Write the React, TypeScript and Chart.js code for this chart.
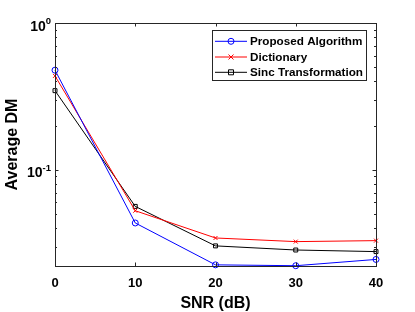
import React, { useEffect, useRef } from "react";
import { Chart, registerables } from "chart.js";

Chart.register(...registerables);

const snr = [0, 10, 20, 30, 40];
const proposed = [0.477, 0.0434, 0.0225, 0.0222, 0.0245];
const dictionary = [0.436, 0.0526, 0.0343, 0.0324, 0.0329];
const sinc = [0.346, 0.0563, 0.0303, 0.0284, 0.0277];
const seriesNames = ["Proposed Algorithm", "Dictionary", "Sinc Transformation"];
const xTicks = [0, 10, 20, 30, 40];
const yMajor = [0.1, 1];
const yMinor = [0.03, 0.04, 0.05, 0.06, 0.07, 0.08, 0.09, 0.2, 0.3, 0.4, 0.5, 0.6, 0.7, 0.8, 0.9];
const xTitle = "SNR (dB)";
const yTitle = "Average DM";

const FONT = "'Liberation Sans', Arial, Helvetica, sans-serif";
const AX = "#262626";

function drawMarker(ctx: CanvasRenderingContext2D, style: string, x: number, y: number, color: string) {
  ctx.save();
  ctx.strokeStyle = color;
  ctx.lineWidth = 1;
  ctx.beginPath();
  if (style === "circle") {
    ctx.arc(x, y, 3, 0, Math.PI * 2);
  } else if (style === "crossRot") {
    ctx.moveTo(x - 2.5, y - 2.5);
    ctx.lineTo(x + 2.5, y + 2.5);
    ctx.moveTo(x + 2.5, y - 2.5);
    ctx.lineTo(x - 2.5, y + 2.5);
  } else {
    ctx.rect(x - 2.5, y - 2.5, 5, 5);
  }
  ctx.stroke();
  ctx.restore();
}

const axesPlugin = {
  id: "matlabAxes",
  afterDatasetsDraw(chart: any) {
    const ctx: CanvasRenderingContext2D = chart.ctx;
    const { left, right, top, bottom } = chart.chartArea;
    const xs = chart.scales.x;
    const ys = chart.scales.y;
    ctx.save();
    ctx.strokeStyle = AX;
    ctx.lineWidth = 1;
    // box
    ctx.strokeRect(Math.round(left) + 0.5, Math.round(top) + 0.5, Math.round(right - left), Math.round(bottom - top));
    // x ticks
    ctx.beginPath();
    for (const v of xTicks) {
      const px = Math.round(xs.getPixelForValue(v)) + 0.5;
      ctx.moveTo(px, bottom);
      ctx.lineTo(px, bottom - 3.5);
      ctx.moveTo(px, top);
      ctx.lineTo(px, top + 3.5);
    }
    for (const v of yMajor) {
      const py = Math.round(ys.getPixelForValue(v)) + 0.5;
      ctx.moveTo(left, py);
      ctx.lineTo(left + 3.5, py);
      ctx.moveTo(right, py);
      ctx.lineTo(right - 3.5, py);
    }
    for (const v of yMinor) {
      const py = Math.round(ys.getPixelForValue(v)) + 0.5;
      ctx.moveTo(left, py);
      ctx.lineTo(left + 2, py);
      ctx.moveTo(right, py);
      ctx.lineTo(right - 2, py);
    }
    ctx.stroke();

    // x tick labels
    ctx.fillStyle = "#000";
    ctx.font = `bold 13px ${FONT}`;
    ctx.textAlign = "center";
    ctx.textBaseline = "alphabetic";
    for (const v of xTicks) {
      ctx.fillText(String(v), xs.getPixelForValue(v), 287);
    }
    // y tick labels with superscript
    for (const v of yMajor) {
      const e = Math.round(Math.log10(v));
      const py = ys.getPixelForValue(v);
      const sup = e < 0 ? "-" + String(-e) : String(e);
      ctx.font = `bold 9.5px ${FONT}`;
      const sw = ctx.measureText(sup).width;
      ctx.textAlign = "left";
      ctx.fillText(sup, 51 - sw, py + 1);
      ctx.font = `bold 14px ${FONT}`;
      ctx.textAlign = "right";
      ctx.fillText("10", 51 - sw, py + 7.5);
    }
    // titles
    ctx.font = `bold 16px ${FONT}`;
    ctx.textAlign = "center";
    ctx.fillText(xTitle, (left + right) / 2, 307.5);
    ctx.save();
    ctx.translate(17, (top + bottom) / 2);
    ctx.rotate(-Math.PI / 2);
    ctx.fillText(yTitle, 0, 0);
    ctx.restore();

    // legend
    const lx = 212.5, ly = 30.5, lw = 154, lh = 50;
    ctx.fillStyle = "#fff";
    ctx.fillRect(lx, ly, lw, lh);
    ctx.strokeStyle = AX;
    ctx.strokeRect(lx, ly, lw, lh);
    const rows = [41.3, 57, 72.3];
    chart.data.datasets.forEach((ds: any, i: number) => {
      const ry = rows[i];
      ctx.strokeStyle = ds.borderColor;
      ctx.lineWidth = 1;
      ctx.beginPath();
      ctx.moveTo(215, ry);
      ctx.lineTo(247, ry);
      ctx.stroke();
      drawMarker(ctx, ds.pointStyle, 231, ry, ds.borderColor);
      ctx.fillStyle = "#000";
      ctx.font = `bold 11.7px ${FONT}`;
      ctx.textAlign = "left";
      ctx.textBaseline = "middle";
      ctx.fillText(ds.label, 250, ry + 0.5);
      ctx.textBaseline = "alphabetic";
    });
    ctx.restore();
  },
};

export default function App() {
  const ref = useRef<HTMLCanvasElement | null>(null);
  useEffect(() => {
    document.body.style.margin = "0";
    if (!ref.current) return;
    const mk = (label: string, data: number[], color: string, ps: string) => ({
      label,
      data: snr.map((x, i) => ({ x, y: data[i] })),
      borderColor: color,
      backgroundColor: "transparent",
      borderWidth: 1,
      pointStyle: ps,
      pointRadius: ps === "circle" ? 3 : 2.8,
      pointBorderWidth: 1,
      pointBorderColor: color,
      pointBackgroundColor: "transparent",
      tension: 0,
      clip: false as any,
    });
    const chart = new Chart(ref.current, {
      type: "line",
      data: {
        datasets: [
          mk(seriesNames[0], proposed, "#0000ff", "circle"),
          mk(seriesNames[1], dictionary, "#ff0000", "crossRot"),
          mk(seriesNames[2], sinc, "#000000", "rect"),
        ],
      },
      options: {
        responsive: false,
        animation: false,
        layout: { padding: { left: 55, right: 39, top: 23, bottom: 46 } },
        plugins: { legend: { display: false }, tooltip: { enabled: false } },
        scales: {
          x: { type: "linear", min: 0, max: 40, display: false },
          y: { type: "logarithmic", min: 0.0221, max: 1, display: false },
        },
      },
      plugins: [axesPlugin],
    });
    return () => chart.destroy();
  }, []);
  return <canvas ref={ref} width={415} height={312} style={{ display: "block" }} />;
}
